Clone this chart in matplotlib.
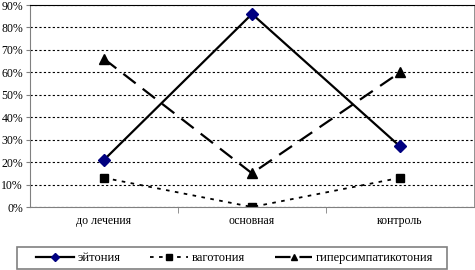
import matplotlib.pyplot as plt
from matplotlib.patches import Rectangle
from matplotlib.ticker import FixedLocator

categories = ["до лечения", "основная", "контроль"]
eutonia = [21, 86, 27]
vagotonia = [13, 0, 13]
hypersymp = [66, 15, 60]
y_ticks = list(range(0, 91, 10))

plt.rcParams["font.family"] = ["Liberation Serif", "DejaVu Serif"]

fig = plt.figure(figsize=(4.75, 2.7), dpi=100)
ax = fig.add_axes([30 / 475, 1 - 207 / 270, 444 / 475, 202 / 270])

x = list(range(len(categories)))
ax.plot(x, eutonia, color="black", lw=1.6, ls="-",
        marker="D", ms=6, mfc="#000080", mec="#000080", label="эйтония")
ax.plot(x, vagotonia, color="black", lw=1.3, ls=(0, (2, 3)),
        marker="s", ms=6, mfc="black", mec="black", label="ваготония")
ax.plot(x, hypersymp, color="black", lw=1.6, ls=(0, (7, 4)),
        marker="^", ms=7, mfc="black", mec="black", label="гиперсимпатикотония")

ax.set_xlim(-0.5, 2.5)
ax.set_ylim(0, 90)
ax.set_yticks(y_ticks)
ax.set_yticklabels([f"{v}%" for v in y_ticks], fontsize=8.5)
ax.yaxis.grid(True, color="black", ls=(0, (2, 2)), lw=0.8)
ax.set_axisbelow(True)

ax.set_xticks(x)
ax.set_xticklabels(categories, fontsize=8.5)
ax.tick_params(axis="x", length=0, pad=6)
ax.xaxis.set_minor_locator(FixedLocator([0.5, 1.5]))
ax.tick_params(axis="x", which="minor", length=4, color="gray", direction="out")
ax.tick_params(axis="y", length=3, color="gray", pad=2)

for side in ["left", "bottom", "right"]:
    ax.spines[side].set_color("gray")
ax.spines["top"].set_color("black")
ax.spines["right"].set_linewidth(0.6)

# legend frame drawn separately to match the reference box
fig.patches.append(Rectangle((17 / 475, 1 - 269 / 270), 430 / 475, 22 / 270,
                             transform=fig.transFigure, fill=False,
                             edgecolor="gray", lw=1.2))
leg = fig.legend(loc="center left", bbox_to_anchor=(36 / 475, 1 - 258 / 270),
                 ncol=3, fontsize=9, frameon=False, markerscale=0.7,
                 handlelength=3.0, handletextpad=0.3, columnspacing=2.4,
                 borderaxespad=0, borderpad=0)

fig.savefig("out.png", dpi=100)
